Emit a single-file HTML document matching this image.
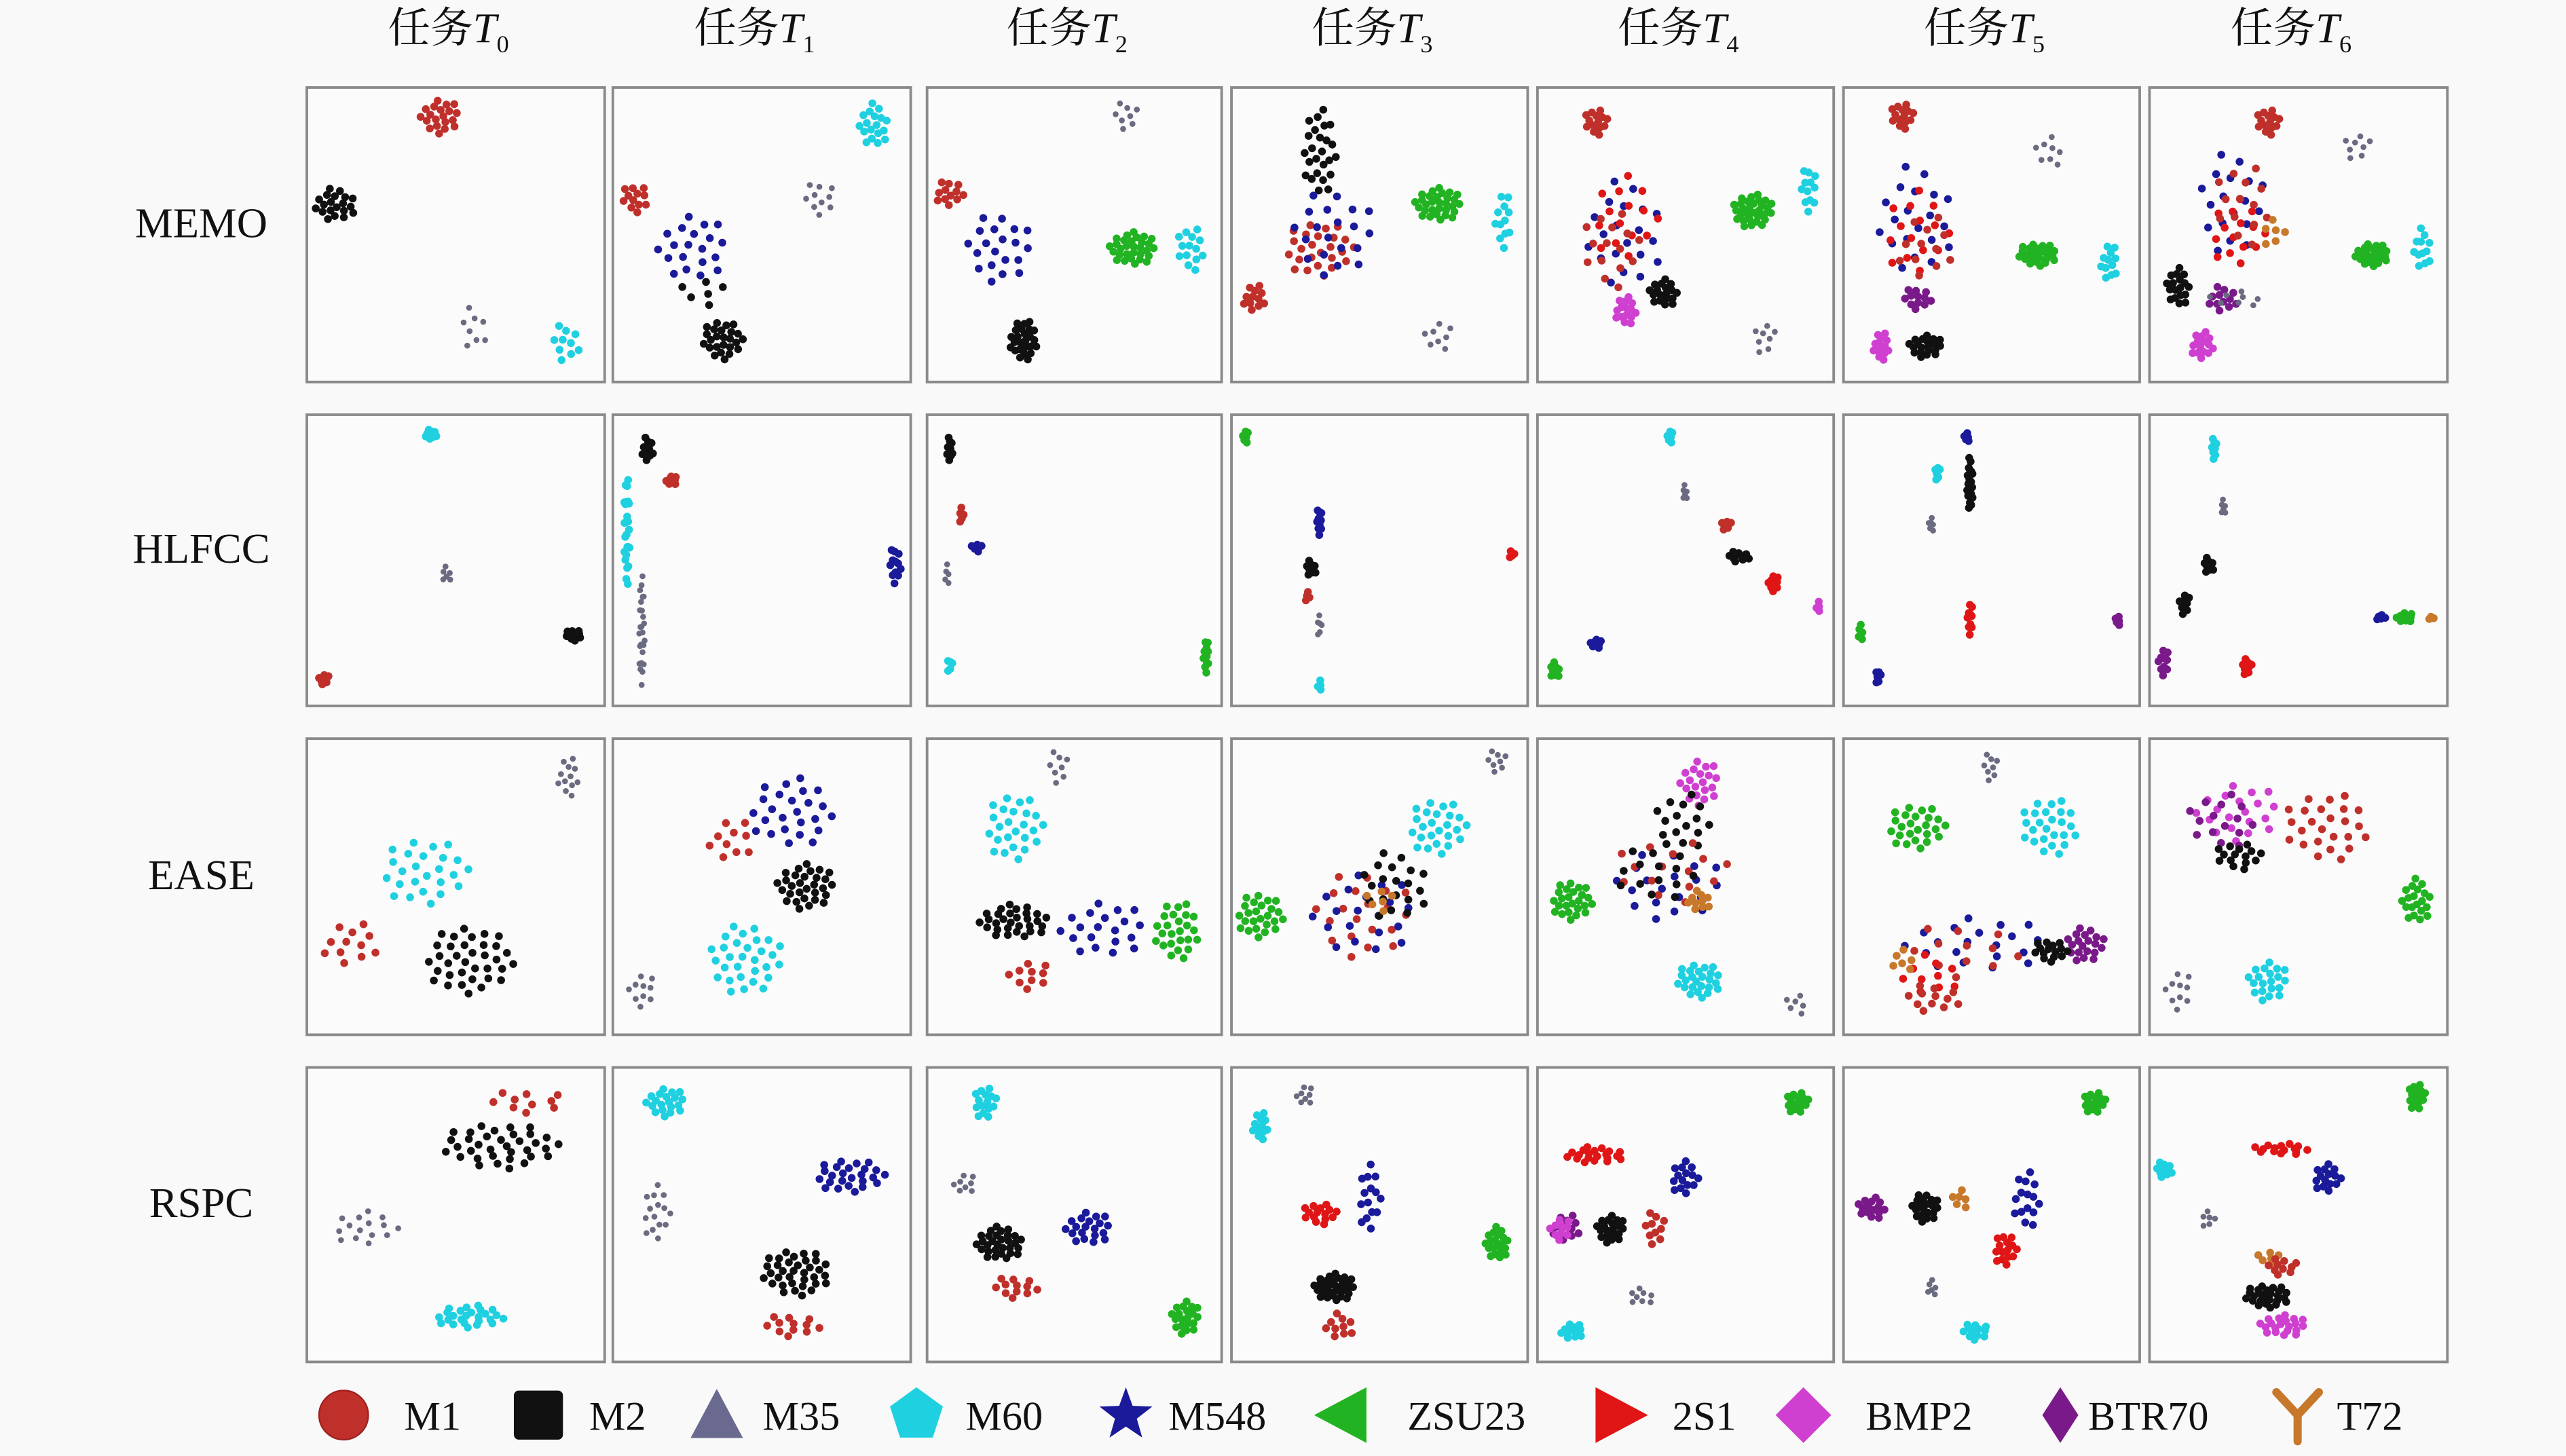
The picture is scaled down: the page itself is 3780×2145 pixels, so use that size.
<!DOCTYPE html>
<html><head><meta charset="utf-8">
<style>
html,body{margin:0;padding:0;background:#f9f9f9;}
svg{display:block;}
text{font-family:"Liberation Serif","Noto Serif CJK SC",serif;fill:#111;}
</style></head>
<body>
<svg id="chart" width="3780" height="2145" viewBox="0 0 1568 890" preserveAspectRatio="none" xmlns="http://www.w3.org/2000/svg">
<rect x="0" y="0" width="1568" height="890" fill="#f9f9f9"/>
<g id="panels"></g>
<g id="legend"></g>
</svg>
<script>
const taskLabels = ["0","1","2","3","4","5","6"];
const methodLabels = ["MEMO","HLFCC","EASE","RSPC"];
const classNames = ["M1","M2","M35","M60","M548","ZSU23","2S1","BMP2","BTR70","T72"];
const classColors = ["#c0302b","#111111","#6a6a80","#1fd0e0","#1a1a9a","#22b322","#e01515","#d040d0","#7a1a8a","#c8782a"];
// clusters per panel: [classIndex, cx, cy, sx, sy, count] in panel-normalised coordinates
const memoClusters = [
 [[0,.45,.1,.07,.06,20],[1,.1,.4,.07,.06,20],[2,.56,.82,.05,.08,8],[3,.87,.87,.05,.07,10]],
 [[3,.88,.13,.05,.08,18],[2,.7,.38,.06,.06,10],[0,.08,.38,.05,.05,12],[4,.27,.55,.12,.12,20],[1,.37,.86,.07,.07,25],[1,.3,.7,.08,.06,6]],
 [[2,.68,.1,.05,.05,8],[0,.08,.36,.05,.05,12],[4,.25,.55,.12,.12,20],[3,.9,.55,.05,.08,14],[5,.7,.55,.08,.06,30],[1,.33,.86,.05,.07,25]],
 [[1,.3,.22,.06,.15,25],[0,.3,.55,.12,.1,25],[4,.35,.5,.15,.15,20],[0,.08,.72,.04,.05,12],[5,.7,.4,.08,.06,30],[3,.92,.45,.03,.1,12],[2,.7,.85,.05,.06,8]],
 [[0,.2,.12,.04,.05,14],[4,.3,.5,.13,.2,20],[6,.3,.45,.12,.15,15],[0,.25,.55,.1,.15,15],[7,.3,.76,.04,.05,15],[1,.43,.7,.05,.05,18],[5,.73,.42,.07,.06,30],[3,.92,.35,.03,.08,12],[2,.77,.85,.04,.06,8]],
 [[0,.2,.1,.04,.05,14],[4,.25,.45,.13,.2,20],[6,.25,.5,.12,.15,15],[0,.28,.55,.1,.12,12],[8,.25,.72,.05,.04,12],[1,.28,.88,.06,.04,20],[7,.13,.88,.03,.05,14],[5,.66,.57,.07,.04,25],[3,.9,.6,.03,.07,12],[2,.7,.22,.05,.06,8]],
 [[0,.4,.12,.04,.05,14],[4,.28,.4,.12,.18,18],[6,.3,.5,.1,.12,15],[0,.32,.4,.1,.15,14],[9,.42,.5,.05,.05,6],[1,.1,.68,.04,.07,18],[8,.25,.72,.05,.05,12],[7,.18,.88,.04,.05,15],[2,.7,.2,.05,.05,8],[2,.3,.72,.1,.03,8],[5,.75,.57,.06,.04,25],[3,.92,.55,.03,.08,12]]
];
const hlfccClusters = [
 [[3,.42,.07,.02,.02,10],[2,.47,.55,.02,.03,6],[1,.9,.76,.03,.02,12],[0,.06,.91,.02,.02,8]],
 [[1,.12,.12,.02,.05,10],[0,.2,.23,.02,.02,8],[3,.05,.4,.01,.2,25],[2,.1,.75,.01,.2,25],[4,.95,.52,.02,.07,12]],
 [[1,.08,.12,.01,.05,10],[0,.12,.35,.01,.03,5],[4,.17,.46,.02,.02,5],[2,.07,.55,.01,.04,5],[3,.08,.86,.01,.03,5],[5,.95,.83,.01,.06,12]],
 [[5,.05,.08,.01,.03,6],[4,.3,.37,.01,.05,10],[1,.27,.53,.02,.03,8],[0,.26,.63,.01,.02,4],[2,.3,.73,.01,.04,6],[3,.3,.93,.01,.02,4],[6,.95,.48,.01,.02,4]],
 [[3,.45,.08,.01,.03,6],[2,.5,.27,.01,.03,6],[0,.64,.38,.02,.02,6],[1,.68,.49,.04,.02,10],[6,.8,.58,.02,.03,10],[7,.95,.66,.01,.02,4],[4,.2,.79,.02,.02,8],[5,.06,.88,.02,.03,8]],
 [[4,.42,.08,.01,.02,5],[1,.43,.24,.01,.1,20],[3,.32,.2,.01,.03,6],[2,.3,.38,.01,.03,6],[6,.43,.7,.01,.06,10],[8,.93,.71,.01,.02,5],[5,.06,.75,.01,.03,6],[4,.12,.9,.01,.03,6]],
 [[3,.22,.12,.01,.04,8],[2,.25,.32,.01,.03,6],[1,.2,.52,.02,.03,8],[1,.12,.65,.02,.04,8],[8,.05,.85,.02,.05,10],[6,.33,.87,.02,.03,8],[4,.78,.7,.02,.01,5],[5,.86,.7,.03,.02,10],[9,.95,.7,.01,.01,3]]
];
const easeClusters = [
 [[2,.88,.13,.04,.07,12],[3,.4,.45,.15,.12,25],[1,.55,.75,.15,.12,35],[0,.15,.7,.1,.08,12]],
 [[4,.6,.25,.15,.12,25],[1,.65,.5,.1,.08,30],[0,.4,.35,.08,.08,10],[3,.45,.75,.13,.12,30],[2,.1,.85,.05,.06,10]],
 [[2,.45,.1,.04,.06,8],[3,.3,.3,.1,.12,25],[1,.3,.62,.12,.06,30],[4,.6,.65,.15,.1,20],[0,.35,.8,.08,.05,10],[5,.85,.65,.08,.1,25]],
 [[2,.9,.08,.04,.04,8],[3,.7,.3,.1,.1,25],[0,.45,.6,.18,.15,20],[4,.45,.6,.18,.15,20],[1,.55,.5,.12,.12,20],[9,.5,.55,.05,.05,6],[5,.1,.6,.08,.08,25]],
 [[7,.55,.15,.07,.08,20],[1,.5,.28,.1,.1,15],[4,.45,.5,.2,.12,20],[0,.45,.45,.2,.12,15],[1,.4,.45,.15,.1,15],[9,.55,.55,.04,.04,10],[5,.12,.55,.07,.07,25],[3,.55,.82,.08,.06,25],[2,.88,.9,.04,.04,6]],
 [[2,.5,.1,.03,.05,8],[5,.25,.3,.1,.08,25],[3,.7,.3,.1,.1,25],[4,.45,.7,.25,.1,20],[0,.4,.72,.2,.1,12],[6,.3,.8,.1,.08,10],[9,.2,.75,.05,.04,6],[8,.82,.7,.07,.06,20],[1,.7,.72,.06,.04,15],[0,.3,.88,.1,.05,12]],
 [[7,.3,.25,.15,.1,20],[8,.25,.28,.12,.1,15],[0,.6,.3,.15,.12,25],[1,.3,.4,.08,.05,15],[2,.1,.85,.05,.07,10],[3,.4,.82,.07,.07,20],[5,.9,.55,.05,.08,20]]
];
const rspcClusters = [
 [[1,.65,.27,.2,.08,35],[0,.75,.12,.15,.04,10],[2,.2,.55,.12,.06,15],[3,.55,.85,.12,.04,25]],
 [[3,.18,.12,.07,.05,20],[4,.8,.37,.12,.06,25],[2,.15,.5,.05,.1,15],[1,.62,.7,.12,.08,35],[0,.6,.88,.1,.04,12]],
 [[3,.2,.12,.04,.06,15],[2,.13,.4,.04,.04,8],[1,.25,.6,.08,.06,30],[4,.55,.55,.08,.06,20],[0,.3,.75,.08,.04,12],[5,.88,.85,.05,.06,20]],
 [[3,.1,.2,.03,.05,12],[2,.25,.1,.03,.04,8],[4,.47,.45,.04,.12,15],[6,.3,.5,.06,.04,15],[1,.35,.75,.07,.05,30],[0,.37,.88,.05,.05,10],[5,.9,.6,.04,.06,20]],
 [[5,.88,.12,.04,.04,15],[6,.2,.3,.1,.03,20],[4,.5,.38,.05,.06,15],[8,.1,.55,.05,.05,12],[7,.08,.55,.04,.04,10],[1,.25,.55,.05,.05,20],[0,.4,.55,.04,.06,10],[2,.35,.78,.05,.03,8],[3,.12,.9,.04,.03,12]],
 [[5,.85,.12,.04,.04,15],[8,.1,.48,.05,.04,15],[1,.28,.48,.05,.05,20],[9,.4,.45,.03,.04,6],[4,.62,.45,.05,.1,15],[6,.55,.62,.04,.06,15],[2,.3,.75,.02,.03,6],[3,.45,.9,.05,.03,12]],
 [[5,.9,.1,.03,.05,15],[6,.45,.28,.1,.02,15],[4,.6,.38,.05,.05,15],[3,.05,.35,.03,.03,10],[2,.2,.52,.03,.03,6],[9,.4,.65,.04,.03,6],[0,.45,.68,.06,.03,10],[1,.4,.78,.08,.04,25],[7,.45,.88,.08,.04,20]]
];
const allClusters = [memoClusters, hlfccClusters, easeClusters, rspcClusters];

const NS = "http://www.w3.org/2000/svg";
const colX = [187,374,566,752,939,1126,1313];
const colW = [182,182,180,181,181,181,182];
const rowY = [53,253,451,652];
const rowH = [180,178,181,180];
const panels = document.getElementById('panels');
function mk(tag, attrs){const e=document.createElementNS(NS,tag);for(const k in attrs)e.setAttribute(k,attrs[k]);return e;}
function xScale(c,v){return colX[c]+v*colW[c];}
function yScale(r,v){return rowY[r]+v*rowH[r];}

taskLabels.forEach((t,c)=>{
  const tx = mk('text',{x:colX[c]+colW[c]/2-4,y:26,'text-anchor':'middle','font-size':26});
  
  
  tx.innerHTML = '任务<tspan font-style="italic">T</tspan><tspan font-size="15" dy="6">'+t+'</tspan>';
  panels.appendChild(tx);
});
methodLabels.forEach((m,r)=>{
  const tx = mk('text',{x:123,y:rowY[r]+rowH[r]/2+2,'text-anchor':'middle','font-size':26});
  
  
  tx.textContent = m;
  panels.appendChild(tx);
});

const golden = Math.PI*(3-Math.sqrt(5));
allClusters.forEach((row,r)=>{
  row.forEach((clusters,c)=>{
    const g = mk('g',{});
    
    
    const frame = mk('rect',{x:colX[c]+.5,y:rowY[r]+.5,width:colW[c],height:rowH[r],fill:'#fbfbfb',stroke:'#8a8a8a','stroke-width':1.6});
    
    
    g.appendChild(frame);
    clusters.forEach((cl,k)=>{
      const [ci,cx,cy,sx,sy,n]=cl;
      for(let i=0;i<n;i++){
        const rr = Math.sqrt((i+0.5)/n);
        const a = i*golden + k*1.3;
        const px = xScale(c, cx + sx*rr*Math.cos(a));
        const py = yScale(r, cy + sy*rr*Math.sin(a));
        const p = mk('circle',{cx:px,cy:py,r:ci===2?1.8:2.4,fill:classColors[ci]});
        
        
        g.appendChild(p);
      }
    });
    panels.appendChild(g);
  });
});

const legend = document.getElementById('legend');
const legMarkX = [210,329,438,560,688,820,990,1102,1259,1404];
const legTextX = [247,360,466,590,714,860,1022,1140,1276,1428];
const LY = 865;
function markerShape(i,x,y){
  const col = classColors[i];
  if(i===0) return mk('circle',{cx:x,cy:y,r:15,fill:col,stroke:'#a02020','stroke-width':1});
  if(i===1) return mk('rect',{x:x-15,y:y-15,width:30,height:30,rx:3,fill:col});
  if(i===2) return mk('polygon',{points:`${x},${y-16} ${x+16},${y+14} ${x-16},${y+14}`,fill:'#6a6a90'});
  if(i===3){let pts=[];for(let j=0;j<5;j++){const a=-Math.PI/2+j*2*Math.PI/5;pts.push((x+17*Math.cos(a))+','+(y+17*Math.sin(a)));}return mk('polygon',{points:pts.join(' '),fill:col});}
  if(i===4){let pts=[];for(let j=0;j<10;j++){const a=-Math.PI/2+j*Math.PI/5;const rr=j%2?7:17;pts.push((x+rr*Math.cos(a))+','+(y+rr*Math.sin(a)));}return mk('polygon',{points:pts.join(' '),fill:col});}
  if(i===5) return mk('polygon',{points:`${x-17},${y} ${x+15},${y-17} ${x+15},${y+17}`,fill:col});
  if(i===6) return mk('polygon',{points:`${x+17},${y} ${x-15},${y-17} ${x-15},${y+17}`,fill:col});
  if(i===7||i===8) return mk('polygon',{points:`${x},${y-17} ${x+(i===7?17:11)},${y} ${x},${y+17} ${x-(i===7?17:11)},${y}`,fill:col});
  const gg = mk('g',{stroke:col,'stroke-width':5,'stroke-linecap':'round',fill:'none'});
  gg.appendChild(mk('path',{d:`M${x},${y+16} L${x},${y} L${x-13},${y-14} M${x},${y} L${x+13},${y-14}`}));
  return gg;
}
classNames.forEach((nm,i)=>{
  const g = mk('g',{});
  
  
  const m = markerShape(i,legMarkX[i],LY);
  
  
  g.appendChild(m);
  const t = mk('text',{x:legTextX[i],y:LY+9,'font-size':25});
  
  
  t.textContent = nm;
  g.appendChild(t);
  legend.appendChild(g);
});
</script>
</body></html>
